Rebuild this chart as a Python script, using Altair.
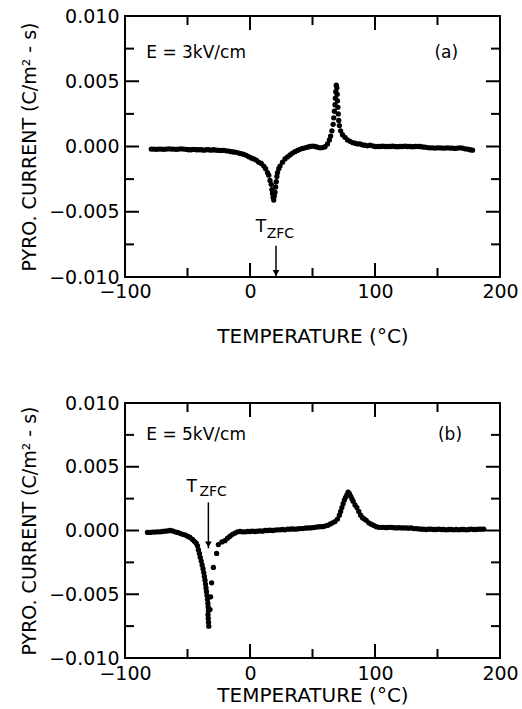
import altair as alt
import pandas as pd

# ---------------- data ----------------
TA = [
    -79, -77, -75, -73, -71, -69, -67, -65, -63, -61,
    -59, -57, -55, -53, -51, -49, -47, -45, -43, -41,
    -39, -37, -35, -33, -31, -29, -27, -25, -23, -21,
    -19, -17, -15, -13, -11, -9, -7, -5, -3, -1,
    1, 3, 5, 7, 9, 11, 12.5, 14, 15, 16,
    17, 17.5, 18, 18.5, 19, 19.5, 20, 20.5, 21, 21.5,
    22, 23, 24, 26, 28, 30, 32, 34, 36, 38,
    40, 42, 44, 46, 48, 50, 52, 54, 56, 58,
    60, 62, 63.5, 64.5, 65.5, 66.5, 67, 67.5, 68, 68.3,
    68.6, 69, 69.5, 69.8, 70, 70.3, 70.6, 71, 71.5, 72.5,
    74, 76, 78, 80, 82, 84, 86, 88, 90, 92,
    94, 96, 98, 100, 102, 104, 106, 108, 110, 112,
    114, 116, 118, 120, 122, 124, 126, 128, 130, 132,
    134, 136, 138, 140, 142, 144, 146, 148, 150, 152,
    154, 156, 158, 160, 162, 164, 166, 168, 170, 172,
    174, 176, 178,
]
IA = [
    -0.0002, -0.0002, -0.00022, -0.0002, -0.0002, -0.00022, -0.0002, -0.00018, -0.0002, -0.0002,
    -0.00022, -0.0002, -0.00018, -0.0002, -0.00022, -0.00025, -0.00025, -0.00022, -0.00025, -0.00025,
    -0.00025, -0.00028, -0.00025, -0.00025, -0.00028, -0.00025, -0.00028, -0.0003, -0.0003, -0.0003,
    -0.00033, -0.00035, -0.0004, -0.00042, -0.00045, -0.0005, -0.00055, -0.0006, -0.00068, -0.00078,
    -0.00088, -0.00095, -0.00105, -0.0012, -0.0013, -0.0015, -0.0017, -0.002, -0.0022, -0.0026,
    -0.0029, -0.0033, -0.0036, -0.0039, -0.0041, -0.0038, -0.0035, -0.0031, -0.0027, -0.0023,
    -0.002, -0.0017, -0.0015, -0.0012, -0.00095, -0.0008, -0.00065, -0.0005, -0.0004, -0.0003,
    -0.00022, -0.00015, -0.0001, -0.00005, 0.0, 0.00003, 0.0, -0.00005, -0.0001, -0.00008,
    -0.00002, 0.0002, 0.0005, 0.0008, 0.0012, 0.0017, 0.0022, 0.0027, 0.0032, 0.0037,
    0.0042, 0.0047, 0.0045, 0.004, 0.0035, 0.003, 0.0025, 0.002, 0.0016, 0.0012,
    0.0009, 0.0007, 0.0005, 0.0004, 0.0003, 0.00025, 0.0002, 0.0002, 0.00012, 0.0001,
    0.00005, 0.0001, 0.00005, 0.0, 0.0, 0.0, 0.00002, 0.0, 0.0, 0.0,
    0.00002, 0.0, -0.00002, 0.0, 0.0, 0.00002, 0.0, 0.0, -0.00002, 0.0,
    0.0, 0.0, -0.00003, -0.00005, -0.00008, -0.0001, -0.0001, -0.00012, -0.0001, -0.0001,
    -0.00012, -0.00012, -0.0001, -0.00012, -0.00012, -0.00015, -0.00012, -0.0001, -0.00012, -0.00018,
    -0.0002, -0.00025, -0.00028,
]

TB = [
    -82, -80, -78, -76, -74, -72, -70, -68, -66, -64,
    -62, -60, -58, -56, -54, -52, -50, -48, -46, -44.5,
    -43, -42, -41.3, -40.5, -39.8, -39, -38.3, -37.6, -37, -36.5,
    -36, -35.6, -35.2, -34.8, -34.4, -34, -33.7, -33.5, -33.3, -33.6,
    -33.4, -33.2, -33, -32, -31.5, -30.7, -29.3, -26.7, -25.3, -22.5,
    -20, -18, -16, -14, -12, -10, -8, -6, -4, -2,
    0, 2, 4, 6, 8, 10, 12, 14, 16, 18,
    20, 22, 24, 26, 28, 30, 32, 34, 36, 38,
    40, 42, 44, 46, 48, 50, 52, 54, 56, 58,
    60, 62, 64, 66, 68, 70, 71.5, 72.5, 73.5, 74.5,
    75.5, 76.5, 77.5, 78.5, 79.5, 80.5, 81.5, 82.5, 84, 85.5,
    87, 88.5, 90, 91.5, 93, 95, 97, 99, 101, 103,
    105, 107, 109, 111, 113, 115, 117, 119, 121, 123,
    125, 127, 129, 131, 133, 135, 137, 139, 141, 143,
    145, 147, 149, 151, 153, 155, 157, 159, 161, 163,
    165, 167, 169, 171, 173, 175, 177, 179, 181, 183,
    185, 187,
]
IB = [
    -0.00015, -0.00015, -0.00012, -0.00012, -0.0001, -0.0001, -0.00008, -0.00005, -0.00003, 0.0,
    -0.00003, -0.0001, -0.00015, -0.00022, -0.0003, -0.00035, -0.00045, -0.00055, -0.0007, -0.00085,
    -0.001, -0.0012, -0.0015, -0.0018, -0.0021, -0.0024, -0.0027, -0.003, -0.0033, -0.0036,
    -0.0039, -0.0042, -0.0045, -0.0048, -0.0051, -0.0054, -0.0057, -0.006, -0.0063, -0.0066,
    -0.0069, -0.0072, -0.0075, -0.0062, -0.0052, -0.0041, -0.0029, -0.0018, -0.0011, -0.0009,
    -0.0008, -0.0006, -0.00045, -0.0003, -0.0002, -0.0001, -0.00008, -0.0001, -0.0001, -0.00008,
    -0.00008, -0.00005, -0.00008, -0.00005, -0.00003, -0.00005, 0.0, 0.0, 0.00002, 0.0,
    0.00003, 0.00005, 0.00005, 0.00008, 0.00005, 0.0001, 0.0001, 0.00012, 0.0001, 0.00012,
    0.00015, 0.00015, 0.00018, 0.0002, 0.0002, 0.00022, 0.00025, 0.00028, 0.0003, 0.0003,
    0.00035, 0.0004, 0.0005, 0.0006, 0.0007, 0.0009, 0.0012, 0.0015, 0.0018, 0.0021,
    0.0024, 0.0026, 0.0028, 0.003, 0.0029, 0.0027, 0.0025, 0.0023, 0.002, 0.0018,
    0.0015, 0.0012, 0.001, 0.0009, 0.0008, 0.0006, 0.0005, 0.0004, 0.0003, 0.00025,
    0.00025, 0.00025, 0.00022, 0.00025, 0.00025, 0.00022, 0.0002, 0.00022, 0.0002, 0.0002,
    0.0002, 0.00018, 0.0002, 0.00015, 0.00015, 0.00012, 0.0001, 0.0001, 0.00008, 0.0001,
    0.0001, 0.00008, 0.00008, 0.0001, 0.00008, 0.00008, 0.00005, 0.00008, 0.00008, 0.00005,
    0.00008, 0.00005, 0.00008, 0.00008, 0.00005, 0.00008, 0.0001, 0.00008, 0.00008, 0.0001,
    0.0001, 0.0001,
]

# axis values / ticks
X_LABELS = [-100, 0, 100, 200]
Y_LABELS = [-0.01, -0.005, 0.0, 0.005, 0.01]
X_MAJOR = [0, 100]
X_MINOR = [-50, 50, 150]
Y_MAJOR = [-0.005, 0.0, 0.005]
Y_MINOR = [-0.0075, -0.0025, 0.0025, 0.0075]

# annotations
FIELD_TEXT = ["E = 3kV/cm", "E = 5kV/cm"]
FIELD_POS = [(-83, 0.0072), (-83, 0.0075)]
TAG_TEXT = ["(a)", "(b)"]
TAG_POS = [(157, 0.0072), (160, 0.0075)]
T_POS = [(8.7, -0.0062), (-46.7, 0.0034)]
ZFC_POS = [(13.3, -0.0067), (-40.5, 0.0030)]
ARROW_X = [20.8, -33.3]
ARROW_TOP = [-0.0076, 0.0022]
ARROW_TIP = [-0.0100, -0.0014]

FONT = "DejaVu Sans"
W = 375
MAJ = 14
MIN = 9


def panel(T, I, H, k, lab_pad, title_pad):
    xs = alt.Scale(domain=[-100, 200], nice=False, zero=False)
    ys = alt.Scale(domain=[-0.01, 0.01], nice=False, zero=False)
    xax = alt.Axis(values=X_LABELS, format="d", ticks=False, tickSize=0, domain=False,
                   grid=False, labelFont=FONT, labelFontSize=19, labelPadding=lab_pad,
                   labelColor="black", title="TEMPERATURE (°C)", titleFont=FONT,
                   titleFontSize=20, titleFontWeight="normal", titleColor="black",
                   titlePadding=title_pad, labelFlush=False)
    yax = alt.Axis(values=Y_LABELS, format=".3f", ticks=False, tickSize=0, domain=False,
                   grid=False, labelFont=FONT, labelFontSize=19, labelPadding=6,
                   labelColor="black", title="PYRO. CURRENT (C/m² - s)", titleFont=FONT,
                   titleFontSize=19, titleFontWeight="normal", titleColor="black",
                   titlePadding=9, labelFlush=False)

    def X(f):
        return alt.X(f, scale=xs, axis=xax)

    def Y(f):
        return alt.Y(f, scale=ys, axis=yax)

    pts = alt.Chart(pd.DataFrame({"T": T, "I": I})).mark_circle(
        size=28, color="black", opacity=1
    ).encode(x=X("T:Q"), y=Y("I:Q"))

    def xt(vals, length, bottom=True):
        c = alt.Chart(pd.DataFrame({"v": vals})).mark_rule(color="black", strokeWidth=2)
        if bottom:
            return c.encode(x=X("v:Q"), y=alt.value(H), y2=alt.value(H - length))
        return c.encode(x=X("v:Q"), y=alt.value(0), y2=alt.value(length))

    def yt(vals, length, left=True):
        c = alt.Chart(pd.DataFrame({"v": vals})).mark_rule(color="black", strokeWidth=2)
        if left:
            return c.encode(y=Y("v:Q"), x=alt.value(0), x2=alt.value(length))
        return c.encode(y=Y("v:Q"), x=alt.value(W), x2=alt.value(W - length))

    ticks = [
        xt(X_MAJOR, MAJ, True), xt(X_MINOR, MIN, True),
        xt(X_MAJOR, MAJ, False), xt(X_MINOR, MIN, False),
        yt(Y_MAJOR, MAJ, True), yt(Y_MINOR, MIN, True),
        yt(Y_MAJOR, MAJ, False), yt(Y_MINOR, MIN, False),
    ]

    def txt(s, pos, size, align):
        df = pd.DataFrame({"x": [pos[0]], "y": [pos[1]], "s": [s]})
        return alt.Chart(df).mark_text(font=FONT, fontSize=size, align=align,
                                       baseline="middle", color="black").encode(
            x=X("x:Q"), y=Y("y:Q"), text="s:N",
        )

    texts = [
        txt(FIELD_TEXT[k], FIELD_POS[k], 17, "left"),
        txt(TAG_TEXT[k], TAG_POS[k], 17, "center"),
        txt("T", T_POS[k], 17, "center"),
        txt("ZFC", ZFC_POS[k], 14, "left"),
    ]

    adf = pd.DataFrame({"x": [ARROW_X[k]], "y1": [ARROW_TOP[k]], "y2": [ARROW_TIP[k]]})
    shaft = alt.Chart(adf).mark_rule(color="black", strokeWidth=1.5).encode(
        x=X("x:Q"), y=Y("y1:Q"), y2="y2:Q",
    )
    head = alt.Chart(adf).mark_point(shape="triangle-down", filled=True, size=45,
                                     color="black", opacity=1, yOffset=-4).encode(
        x=X("x:Q"), y=Y("y2:Q"),
    )

    return alt.layer(pts, *ticks, *texts, shaft, head).properties(width=W, height=H)


chart = alt.vconcat(
    panel(TA, IA, 261, 0, 5, 25),
    panel(TB, IB, 255, 1, 6, 2),
    spacing=46,
).configure_view(
    stroke="black", strokeWidth=2
).properties(
    padding={"left": 19, "top": 6, "right": 0, "bottom": 0},
    background="white",
)

chart.save("out.html", embed_options={"renderer": "svg", "actions": False})
